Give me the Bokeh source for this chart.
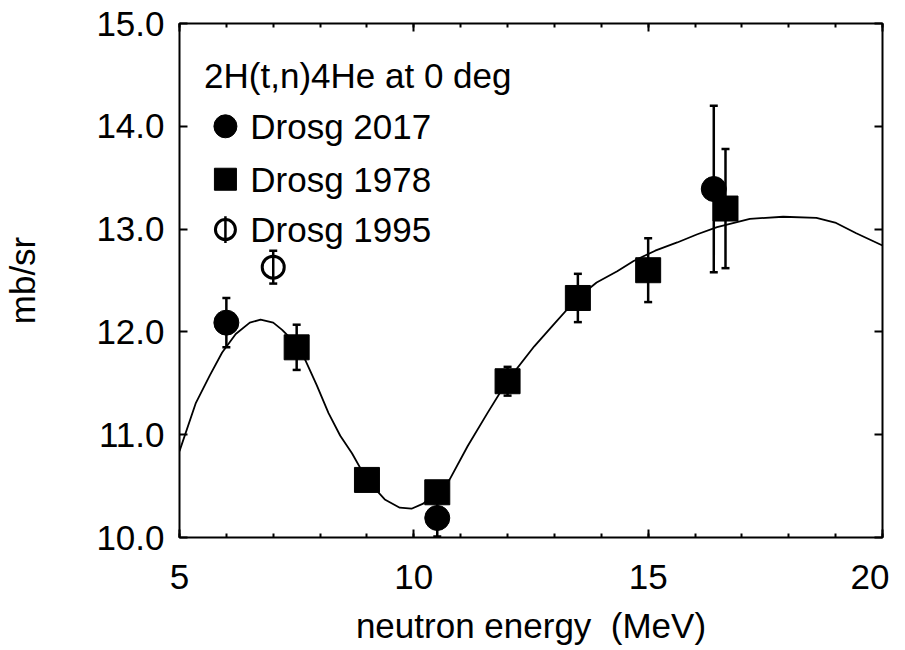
from bokeh.plotting import figure
from bokeh.models import (ColumnDataSource, Whisker, TeeHead, LinearAxis, Range1d,
                          PrintfTickFormatter, CustomJSTickFormatter, FixedTicker)
from bokeh.core.properties import value
from bokeh.embed import file_html
from bokeh.resources import INLINE

FONT = "Liberation Sans"

# ---------------- data ----------------
# Drosg 2017 (filled circles)
x2017 = [6.0, 10.5, 16.4]
y2017 = [12.09, 10.19, 13.39]
e2017 = [0.24, 0.18, 0.81]

# Drosg 1978 (filled squares)
x1978 = [7.5, 9.0, 10.5, 12.0, 13.5, 15.0, 16.65]
y1978 = [11.85, 10.56, 10.44, 11.52, 12.33, 12.60, 13.20]
e1978 = [0.22, 0.08, 0.10, 0.14, 0.235, 0.31, 0.58]

# Drosg 1995 (open circle)
x1995 = [7.0]
y1995 = [12.63]
e1995 = [0.16]

# evaluated curve
curve_x = [5.0, 5.35, 5.65, 5.91, 6.2, 6.5, 6.73, 7.0, 7.19, 7.45, 7.68, 7.93, 8.18,
           8.43, 8.68, 9.0, 9.38, 9.7, 9.95, 10.2, 10.48, 10.76, 11.15, 11.57,
           11.99, 12.57, 13.0, 13.48, 13.9, 14.34, 14.69, 15.15, 15.62, 16.05,
           16.47, 17.17, 17.88, 18.59, 19.01, 19.44, 20.0]
curve_y = [10.84, 11.31, 11.58, 11.80, 11.98, 12.09, 12.12, 12.09, 12.02, 11.90, 11.73,
           11.48, 11.21, 10.99, 10.82, 10.56, 10.37, 10.29, 10.28, 10.33, 10.44, 10.56,
           10.89, 11.21, 11.52, 11.86, 12.08, 12.325, 12.48, 12.59, 12.69, 12.79, 12.87,
           12.95, 13.02, 13.10, 13.12, 13.11, 13.06, 12.96, 12.84]

# tick values / labels
x_major = [5, 10, 15, 20]
x_minor = list(range(5, 21))
y_major = [10, 11, 12, 13, 14, 15]

title_text = "2H(t,n)4He at 0 deg"
legend_labels = ["Drosg 2017", "Drosg 1978", "Drosg 1995"]
x_label = "neutron energy\u00a0 (MeV)"
y_label = "mb/sr"

# ---------------- layout / style constants ----------------
FRAME_W, FRAME_H = 706, 514
LEG_SYM_X = 5.98
LEG_TXT_X = 6.51
LEG_SYM_Y = [14.0, 13.485, 12.996]
LEG_BASE_Y = [13.994, 13.485, 12.999]
LEG_TITLE_Y = 14.495
LEG_TITLE_X = 5.525
PHI_HALF = 0.13

p = figure(width=889, height=649, output_backend="svg", toolbar_location=None,
           x_range=Range1d(5, 20), y_range=Range1d(10, 15),
           min_border_left=176, min_border_right=889 - 176 - FRAME_W,
           min_border_top=23, min_border_bottom=649 - 23 - FRAME_H)
p.grid.visible = False
p.background_fill_color = "white"
p.border_fill_color = "white"
p.outline_line_color = "black"
p.outline_line_width = 2
p.outline_line_alpha = 1


def style_axis(ax, ticks, minor):
    ax.ticker = FixedTicker(ticks=ticks, minor_ticks=minor)
    ax.axis_line_color = None
    ax.major_tick_in = 8
    ax.major_tick_out = 0
    ax.minor_tick_in = 4
    ax.minor_tick_out = 0
    ax.major_tick_line_width = 2
    ax.minor_tick_line_width = 2
    ax.major_tick_line_color = "black"
    ax.minor_tick_line_color = "black"
    ax.major_label_text_font = FONT
    ax.major_label_text_font_size = "35px"
    ax.major_label_text_color = "black"
    ax.axis_label_text_font = FONT
    ax.axis_label_text_font_size = "35px"
    ax.axis_label_text_font_style = "normal"
    ax.axis_label_text_color = "black"


xa = p.xaxis[0]
style_axis(xa, x_major, x_minor)
xa.major_label_standoff = 27
xa.axis_label = x_label
xa.axis_label_standoff = 14

ya = p.yaxis[0]
style_axis(ya, y_major, [])
ya.formatter = PrintfTickFormatter(format="%.1f")
ya.major_label_standoff = 15
ya.axis_label = y_label
ya.axis_label_standoff = 51

blank = CustomJSTickFormatter(code="return ''")
top = LinearAxis()
style_axis(top, x_major, x_minor)
top.formatter = blank
top.major_label_standoff = 0
p.add_layout(top, "above")

right = LinearAxis()
style_axis(right, y_major, [])
right.formatter = blank
right.major_label_standoff = 0
p.add_layout(right, "right")

# curve
p.line(curve_x, curve_y, line_color="black", line_width=1.8)

# error bars
def add_err(xs, ys, es):
    src = ColumnDataSource(dict(x=xs, up=[y + e for y, e in zip(ys, es)],
                                lo=[y - e for y, e in zip(ys, es)]))
    w = Whisker(source=src, base="x", upper="up", lower="lo", dimension="height",
                line_color="black", line_width=2.5,
                upper_head=TeeHead(size=8, line_width=2.5, line_color="black"),
                lower_head=TeeHead(size=8, line_width=2.5, line_color="black"))
    p.add_layout(w)

add_err(x2017, y2017, e2017)
add_err(x1978, y1978, e1978)
add_err(x1995, y1995, e1995)

# markers
p.scatter(x2017, y2017, marker="circle", size=25, fill_color="black", line_color="black")
p.scatter(x1978, y1978, marker="square", size=25, fill_color="black", line_color="black")
p.scatter(x1995, y1995, marker="circle", size=22, fill_color=None, line_color="black",
          line_width=3)

# legend (manual)
p.text([LEG_TITLE_X], [LEG_TITLE_Y], text=[title_text], text_font=value(FONT),
       text_font_size="35px", text_baseline="alphabetic", text_align="left",
       text_color="black")
p.text([LEG_TXT_X] * 3, LEG_BASE_Y, text=legend_labels, text_font=value(FONT),
       text_font_size="35px", text_baseline="alphabetic", text_align="left",
       text_color="black")
p.scatter([LEG_SYM_X], [LEG_SYM_Y[0]], marker="circle", size=23, fill_color="black",
          line_color="black")
p.scatter([LEG_SYM_X], [LEG_SYM_Y[1]], marker="square", size=22, fill_color="black",
          line_color="black")
p.segment([LEG_SYM_X], [LEG_SYM_Y[2] - PHI_HALF], [LEG_SYM_X], [LEG_SYM_Y[2] + PHI_HALF],
          line_color="black", line_width=2.5)
p.scatter([LEG_SYM_X], [LEG_SYM_Y[2]], marker="circle", size=20, fill_color=None,
          line_color="black", line_width=3)

open("out.html", "w").write(file_html(p, INLINE))
